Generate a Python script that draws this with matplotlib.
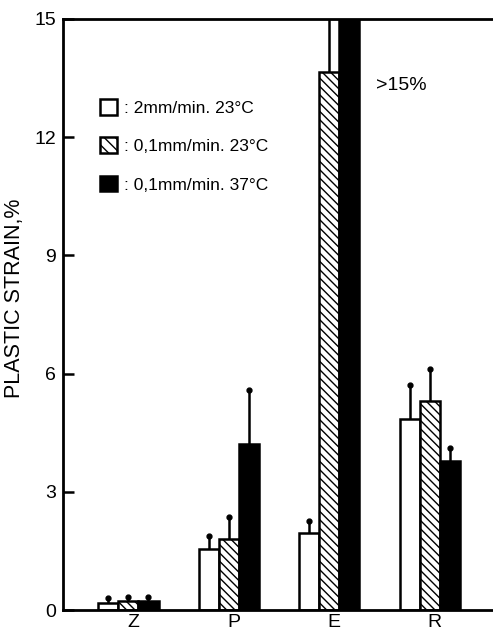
import matplotlib
matplotlib.use("Agg")
import matplotlib.pyplot as plt
from matplotlib.patches import Patch
import numpy as np

plt.rcParams['font.family'] = ['Liberation Sans', 'DejaVu Sans']
plt.rcParams['hatch.linewidth'] = 1.0

categories = ["Z", "P", "E", "R"]
series_labels = [": 2mm/min. 23°C", ": 0,1mm/min. 23°C", ": 0,1mm/min. 37°C"]
values_2mm_23 = [0.18, 1.55, 1.95, 4.85]
values_01mm_23 = [0.24, 1.80, 13.65, 5.30]
values_01mm_37 = [0.24, 4.22, 16.0, 3.78]
err_2mm_23 = [0.12, 0.33, 0.31, 0.85]
err_01mm_23 = [0.09, 0.56, 1.6, 0.82]
err_01mm_37 = [0.09, 1.35, 0.0, 0.32]
yticks = [0, 3, 6, 9, 12, 15]

fig = plt.figure(figsize=(4.93, 6.33), dpi=100)
ax = fig.add_axes([0.128, 0.0363, 0.872, 0.934])

x = np.arange(len(categories))
w = 0.20
series = [values_2mm_23, values_01mm_23, values_01mm_37]
errs = [err_2mm_23, err_01mm_23, err_01mm_37]
styles = [dict(facecolor="white", hatch=None),
          dict(facecolor="white", hatch="\\\\\\\\"),
          dict(facecolor="black", hatch=None)]
for i, (vals, er, st) in enumerate(zip(series, errs, styles)):
    pos = x + (i - 1) * w
    ax.bar(pos, vals, width=w, edgecolor="black", linewidth=1.8, **st, zorder=2)
    tops = np.array(vals) + np.array(er)
    for p, v, t, e in zip(pos, vals, tops, er):
        if e > 0:
            ax.plot([p, p], [v, t], color="black", lw=1.8, zorder=1)
            ax.plot([p], [t], marker="o", ms=3.5, color="black", zorder=1)

ax.set_xlim(-0.65, 3.63)
ax.set_ylim(0, 15)
ax.set_yticks(yticks)
ax.set_xticks(x + 0.05)
ax.set_xticklabels(categories)
ax.tick_params(axis="y", direction="in", length=8, width=1.8, labelsize=14, pad=5)
ax.tick_params(axis="x", length=0, labelsize=14, pad=3)
for s in ["left", "top", "bottom"]:
    ax.spines[s].set_linewidth(2)
ax.spines["right"].set_visible(False)
ax.set_ylabel("PLASTIC STRAIN,%", fontsize=15.5)
ax.yaxis.set_label_coords(-0.088, 0.528)

handles = [Patch(facecolor="white", edgecolor="black", linewidth=1.8),
           Patch(facecolor="white", edgecolor="black", linewidth=1.8, hatch="\\\\\\"),
           Patch(facecolor="black", edgecolor="black", linewidth=1.8)]
leg = ax.legend(handles, series_labels, loc="upper left", bbox_to_anchor=(0.069, 0.876),
                frameon=False, fontsize=12.5, handlelength=1.0, handleheight=1.0,
                handletextpad=0.4, labelspacing=1.25, borderaxespad=0)

ax.text(2.47, 13.3, ">15%", fontsize=14, ha="left", va="center")

fig.savefig("out.png", dpi=100)
